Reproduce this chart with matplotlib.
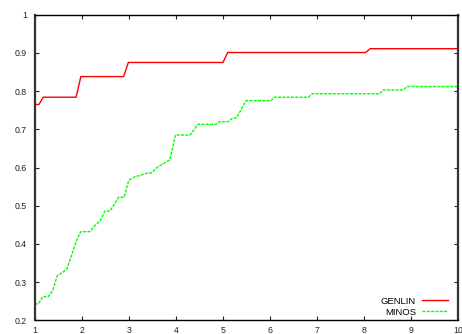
import matplotlib.pyplot as plt

plt.rcParams['font.family'] = ['Liberation Sans', 'DejaVu Sans']

# breakpoints of the two profiles (ratio tau, fraction of problems)
genlin_x = [1.0, 1.09, 1.18, 1.88, 1.98, 2.89, 2.99, 5.0, 5.1, 8.03, 8.13, 10.0]
genlin_y = [0.765, 0.765, 0.784, 0.784, 0.838, 0.838, 0.875, 0.875, 0.901, 0.901, 0.911, 0.911]

minos_x = [1.0, 1.08, 1.17, 1.29, 1.38, 1.48, 1.61, 1.69, 1.89, 1.98, 2.17, 2.28,
           2.39, 2.49, 2.60, 2.78, 2.90, 3.00, 3.13, 3.23, 3.38, 3.48, 3.62, 3.87,
           3.99, 4.30, 4.47, 4.85, 4.92, 5.11, 5.20, 5.29, 5.49, 6.02, 6.09, 6.81,
           6.90, 8.33, 8.40, 8.83, 8.91, 10.0]
minos_y = [0.243, 0.243, 0.262, 0.262, 0.277, 0.317, 0.327, 0.336, 0.410, 0.432, 0.432, 0.448,
           0.460, 0.486, 0.486, 0.522, 0.522, 0.567, 0.576, 0.579, 0.585, 0.586, 0.602, 0.620,
           0.685, 0.685, 0.713, 0.713, 0.720, 0.720, 0.729, 0.730, 0.775, 0.775, 0.784, 0.784,
           0.793, 0.793, 0.803, 0.803, 0.812, 0.812]

x_ticks = list(range(1, 11))
y_ticks = [0.2, 0.3, 0.4, 0.5, 0.6, 0.7, 0.8, 0.9, 1.0]
y_labels = ['0.2', '0.3', '0.4', '0.5', '0.6', '0.7', '0.8', '0.9', '1']

fig = plt.figure(figsize=(4.62, 3.34), dpi=100)
ax = fig.add_axes([34.7 / 462, 13.7 / 334, 423.6 / 462, 305.6 / 334])

ax.plot(genlin_x, genlin_y, color='#ff0000', lw=1.0, label='GENLIN')
ax.plot(minos_x, minos_y, color='#00ff00', lw=1.0, dashes=(2.2, 0.9), label='MINOS')

ax.set_xlim(1, 10)
ax.set_ylim(0.2, 1.0)
ax.set_xticks(x_ticks)
ax.set_xticklabels([str(v) for v in x_ticks])
ax.set_yticks(y_ticks)
ax.set_yticklabels(y_labels)
ax.tick_params(direction='in', length=3, width=0.8, top=True, right=True,
               labelsize=6.3, colors='#222222')
ax.tick_params(axis='x', pad=4)
ax.tick_params(axis='y', pad=5.5)

for side in ['top', 'bottom']:
    ax.spines[side].set_linewidth(1.0)
    ax.spines[side].set_color('black')
for side in ['left', 'right']:
    ax.spines[side].set_linewidth(1.6)
    ax.spines[side].set_color('#333333')

ax.legend(loc='lower right', bbox_to_anchor=(1 - 3.7 / 423.6, -3 / 305.6),
          frameon=False, markerfirst=False, fontsize=6.8,
          handlelength=2.8, handletextpad=0.6, labelspacing=0.2,
          borderaxespad=0.3, borderpad=0.4)

fig.savefig('out.png', dpi=100)
